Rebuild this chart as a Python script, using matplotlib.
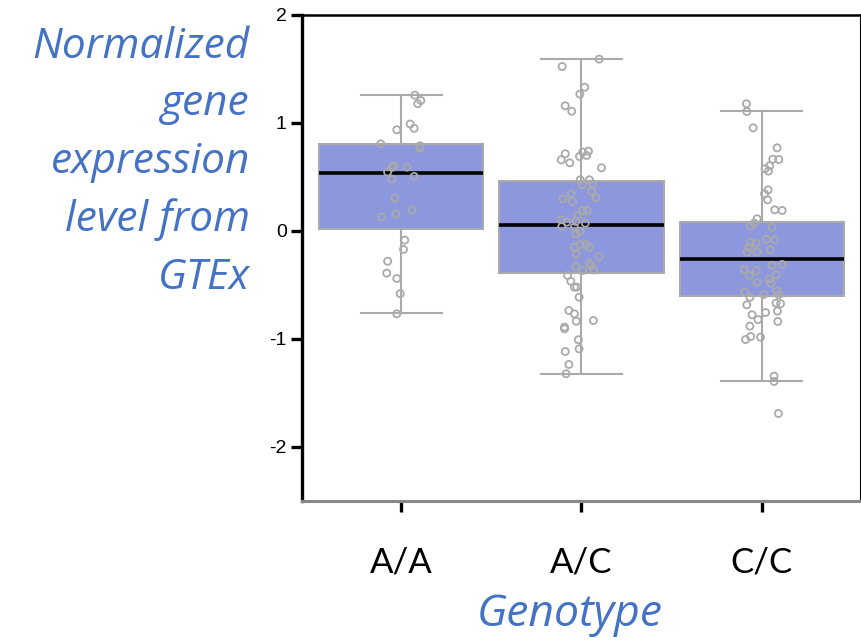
import matplotlib
matplotlib.use("Agg")
from matplotlib import pyplot as plt

# genotype groups
genotypes = ['A/A', 'A/C', 'C/C']

# box summaries
medians = [0.535, 0.06, -0.26]
q1 = [0.02, -0.39, -0.60]
q3 = [0.81, 0.46, 0.08]
whis_lo = [-0.76, -1.32, -1.39]
whis_hi = [1.26, 1.59, 1.11]

# individual samples (value, horizontal jitter)
aa_vals = [1.257, 1.208, 1.178, 0.99, 0.95, 0.937, 0.807, 0.789, 0.767, 0.604,
           0.591, 0.545, 0.505, 0.48, 0.304, 0.196, 0.156, 0.128, -0.085, -0.171,
           -0.28, -0.39, -0.44, -0.58, -0.767, 0.59]
aa_jit = [0.076, 0.109, 0.092, 0.05, 0.072, -0.024, -0.113, 0.104, 0.104, -0.042,
          0.032, -0.075, 0.072, -0.053, -0.035, 0.061, -0.029, -0.109, 0.02, 0.013,
          -0.075, -0.08, -0.024, -0.005, -0.024, -0.05]

ac_vals = [1.591, 1.523, 1.331, 1.267, 1.159, 1.109, 0.715, 0.659, 0.631, 0.73,
           0.739, 0.69, 0.699, 0.585, 0.474, 0.474, 0.428, 0.437, 0.344, 0.298,
           0.369, 0.307, 0.273, 0.19, 0.19, 0.144, 0.104, 0.082, 0.088, 0.072,
           0.042, 0.035, -0.002, -0.026, -0.15, -0.125, -0.125, -0.15, -0.215, -0.236,
           -0.329, -0.298, -0.319, -0.366, -0.36, -0.412, -0.465, -0.52, -0.52, -0.613,
           -0.736, -0.767, -0.835, -0.829, -0.906, -0.89, -1.007, -1.091, -1.116, -1.236,
           -1.322]
ac_jit = [0.098, -0.107, 0.018, -0.009, -0.09, -0.054, -0.09, -0.112, -0.065, 0.007,
          0.039, -0.011, 0.029, 0.111, -0.007, 0.044, 0.006, 0.063, -0.057, -0.103,
          0.057, 0.081, -0.05, 0.032, 0.007, -0.02, -0.112, -0.081, -0.031, 0.021,
          -0.109, -0.039, -0.007, -0.031, -0.039, -0.007, 0.024, 0.043, -0.029, 0.098,
          -0.031, 0.043, 0.054, 0.007, 0.068, -0.077, -0.059, -0.039, -0.026, -0.013,
          -0.07, -0.039, -0.029, 0.066, -0.094, -0.094, -0.017, -0.013, -0.09, -0.07,
          -0.085]

cc_vals = [1.178, 1.106, 0.955, 0.77, 0.665, 0.662, 0.604, 0.576, 0.554, 0.381,
           0.344, 0.289, 0.196, 0.19, 0.113, 0.072, 0.044, 0.035, -0.104, -0.113,
           -0.076, -0.081, -0.15, -0.174, -0.196, -0.196, -0.319, -0.31, -0.356, -0.366,
           -0.412, -0.406, -0.443, -0.477, -0.483, -0.566, -0.557, -0.613, -0.588, -0.591,
           -0.684, -0.668, -0.674, -0.755, -0.742, -0.776, -0.82, -0.838, -0.881, -0.977,
           -1.005, -0.983, -1.344, -1.393, -1.69]
cc_jit = [-0.085, -0.083, -0.048, 0.085, 0.061, 0.094, 0.044, 0.018, 0.037, 0.035,
          0.015, 0.032, 0.072, 0.113, -0.026, -0.042, -0.062, 0.057, -0.062, -0.031,
          0.026, 0.072, -0.072, 0.048, -0.081, -0.026, 0.057, 0.113, -0.098, -0.029,
          -0.068, 0.081, 0.042, -0.026, 0.05, -0.094, 0.083, -0.066, 0.011, 0.094,
          -0.083, 0.079, 0.104, 0.021, 0.087, -0.054, -0.021, 0.089, -0.066, -0.062,
          -0.09, -0.007, 0.068, 0.068, 0.092]

samples = [(aa_vals, aa_jit), (ac_vals, ac_jit), (cc_vals, cc_jit)]

box_col = '#8c97de'
edge_col = '#aaaaaa'
blue = '#4472c4'

fig = plt.figure(figsize=(8.62, 6.4), dpi=100)
ax = fig.add_axes([0.3503, 0.2172, 0.6485, 0.7594])

stats = []
for i, g in enumerate(genotypes):
    stats.append({'label': g, 'med': medians[i], 'q1': q1[i], 'q3': q3[i],
                  'whislo': whis_lo[i], 'whishi': whis_hi[i], 'fliers': []})

ax.bxp(stats, positions=range(len(genotypes)), widths=0.91, patch_artist=True,
       showfliers=False,
       boxprops=dict(facecolor=box_col, edgecolor=edge_col, linewidth=1.5),
       medianprops=dict(color='black', linewidth=2.6),
       whiskerprops=dict(color=edge_col, linewidth=1.5),
       capprops=dict(color=edge_col, linewidth=1.5),
       capwidths=0.45, zorder=2)

# jittered points
for i, (vals, jit) in enumerate(samples):
    xs = [i + j for j in jit]
    ax.scatter(xs, vals, s=26, facecolors='none', edgecolors=edge_col,
               linewidths=1.3, zorder=3)

ax.set_xlim(-0.55, 2.55)
ax.set_ylim(-2.5, 2)
ax.set_yticks([-2, -1, 0, 1, 2])
ax.set_yticklabels(['-2', '-1', '0', '1', '2'], fontsize=14, family='Liberation Sans')
ax.set_xticks(range(len(genotypes)))
ax.set_xticklabels(genotypes, fontsize=25, family='Lato')
ax.tick_params(axis='y', length=8, width=2.4, pad=3)
ax.tick_params(axis='x', length=8, width=2.4, pad=25)

ax.spines['left'].set_linewidth(2.4)
ax.spines['top'].set_linewidth(1.8)
ax.spines['right'].set_linewidth(1.5)
ax.spines['bottom'].set_linewidth(2.2)
ax.spines['bottom'].set_color('#888888')

fig.text(250 / 862, 1 - 26 / 640, 'Normalized\ngene\nexpression\nlevel from\nGTEx',
         ha='right', va='top', fontsize=30.5, style='italic', color=blue,
         family='Open Sans', linespacing=1.48)
fig.text(570 / 862, 1 - 615 / 640, 'Genotype', ha='center', va='center',
         fontsize=32, style='italic', color=blue, family='Open Sans')

fig.savefig('out.png', dpi=100)
